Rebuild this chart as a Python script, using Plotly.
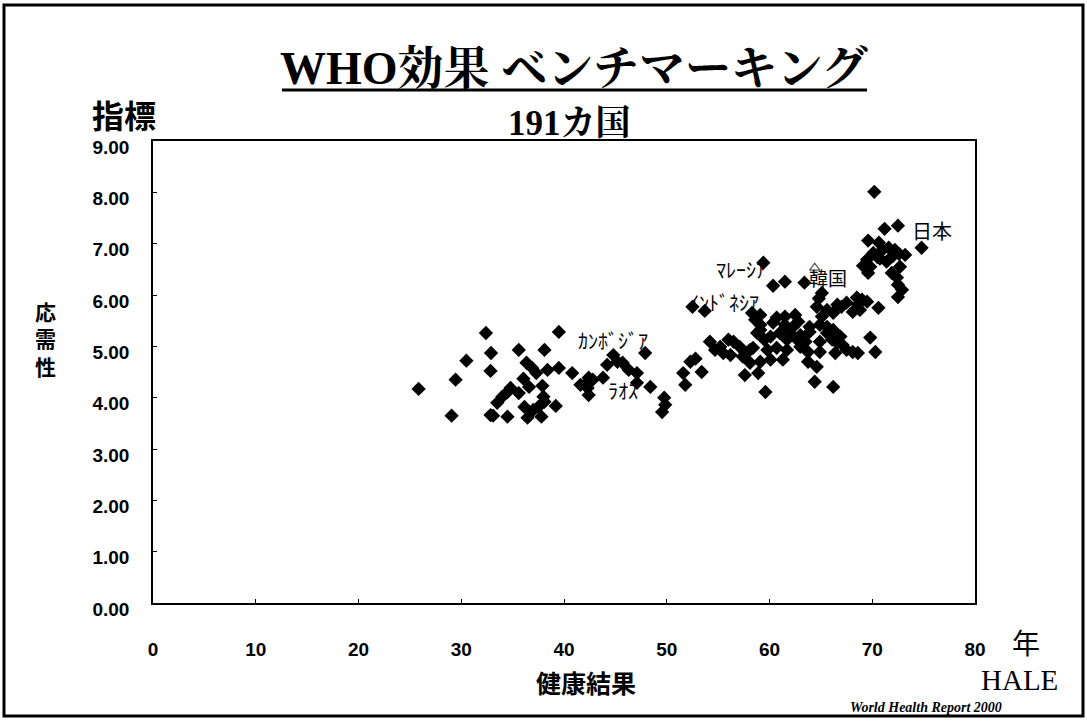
import plotly.graph_objects as go

# HALE (years) vs responsiveness index, 191 countries
hale = [
    25.85, 29.06, 29.45, 30.5, 32.4, 32.9, 32.85, 32.85, 33.1, 33.5, 34.0, 34.5, 34.8, 34.5,
    35.6, 35.6, 36.05, 36.35, 36.9, 36.6, 36.15, 36.45, 37.0, 37.5, 37.8, 38.0, 38.1, 37.9,
    38.1, 38.4, 39.2, 39.5, 39.5, 40.8, 41.6, 42.4, 42.8, 42.4, 43.8, 44.2, 44.8, 45.2, 45.7,
    46.3, 47.1, 47.9, 48.4, 49.75, 49.85, 49.55, 37.3, 42.2, 42.3, 47.1,
    52.5, 53.7, 59.4, 60.35, 61.5, 63.4,
    51.6, 51.8, 52.3, 52.8, 53.4, 54.2, 54.7, 55.2, 55.5, 56.0, 56.5, 56.2, 57.1, 57.4, 57.6,
    58.1, 58.4, 58.1, 58.9, 59.1, 59.6, 58.3, 58.6, 59.1, 59.1, 59.1, 58.8, 59.8, 60.1, 60.1,
    60.7, 60.7, 61.0, 61.3, 61.5, 61.7, 61.7, 62.0, 62.7, 62.8, 63.0, 63.0, 63.75, 63.75, 63.9,
    63.9, 64.4, 64.6, 64.6, 64.9, 64.9, 64.9, 65.1, 65.1, 64.8, 65.6, 65.6, 65.6, 66.2, 66.2,
    66.1, 66.4, 66.2, 66.6, 66.6, 67.0, 66.9, 67.1, 67.5, 67.5, 68.1, 68.1, 68.5, 68.6, 68.8,
    68.6, 69.0, 69.5, 69.8, 70.3, 70.6, 62.3, 63.5, 60.35, 59.5, 62.5, 61.5,
    70.2, 71.2, 72.5, 74.8, 69.6, 70.65, 70.1, 69.5, 69.1, 69.6, 69.8, 70.5, 70.75, 71.0, 71.6,
    72.2, 71.4, 72.0, 72.6, 73.2, 72.7, 71.9, 72.4, 72.5, 72.9, 72.5,
]
resp = [
    4.17, 3.65, 4.35, 4.72, 5.26, 4.87, 4.52, 3.66, 3.65, 3.90, 4.02, 4.11, 4.19, 3.63,
    4.93, 4.09, 4.37, 4.68, 4.58, 4.21, 3.82, 3.61, 3.76, 3.82, 3.63, 4.02, 3.92, 4.23,
    4.93, 4.54, 3.84, 5.28, 4.58, 4.48, 4.25, 4.39, 4.35, 4.05, 4.39, 4.64, 4.83, 4.70, 4.68,
    4.54, 4.48, 4.87, 4.21, 4.00, 3.86, 3.72, 4.48, 4.29, 4.19, 4.29,
    5.77, 5.69, 6.63, 6.18, 6.26, 6.24,
    4.48, 4.25, 4.70, 4.76, 4.50, 5.09, 4.93, 4.99, 4.87, 5.13, 5.09, 4.83, 4.99, 4.80, 4.44,
    4.93, 4.97, 4.68, 4.48, 4.70, 4.11, 5.65, 5.52, 5.61, 5.42, 5.32, 5.26, 4.93, 5.19, 4.74,
    5.56, 4.97, 5.26, 4.74, 5.58, 5.13, 4.93, 5.26, 5.13, 5.48, 5.22, 4.99, 4.89, 4.70, 5.38,
    5.28, 4.31, 5.77, 4.60, 5.42, 5.09, 4.89, 6.04, 5.58, 5.93, 5.71, 5.38, 5.26, 5.65, 5.32,
    5.13, 4.87, 4.21, 5.81, 5.07, 5.77, 5.19, 5.03, 5.85, 4.93, 5.67, 4.89, 5.95, 5.81, 5.71,
    4.87, 5.91, 5.87, 5.17, 4.89, 5.75, 5.38, 5.09, 5.46, 5.13, 5.61, 5.42,
    8.01, 7.29, 7.35, 6.92, 7.06, 7.02, 6.82, 6.69, 6.57, 6.43, 6.55, 6.74, 6.71, 6.88, 6.92,
    6.88, 6.65, 6.76, 6.80, 6.78, 6.55, 6.43, 6.34, 6.20, 6.10, 5.96,
]

korea_hale = [64.4]
korea_resp = [6.53]

label_text = ["日本", "韓国", "ﾏﾚｰｼｱ", "ｲﾝﾄﾞﾈｼｱ", "ｶﾝﾎﾞｼﾞｱ", "ﾗｵｽ"]
label_x = [75.8, 65.7, 57.2, 55.6, 44.8, 45.7]
label_y = [7.25, 6.34, 6.49, 5.85, 5.11, 4.13]
label_size = [20, 19, 20, 20, 20, 20]

x_ticks = [0, 10, 20, 30, 40, 50, 60, 70, 80]
y_ticks = [0, 1, 2, 3, 4, 5, 6, 7, 8, 9]

JP = "Noto Sans CJK JP"
SERIF = "Liberation Serif, Noto Serif CJK JP, Noto Sans CJK JP"
NARROW = "Liberation Sans Narrow, Liberation Sans, Arial, sans-serif"

fig = go.Figure()
fig.add_trace(go.Scatter(
    x=hale, y=resp, mode="markers",
    marker=dict(symbol="diamond", size=11, color="black", line=dict(width=0)),
    showlegend=False, hoverinfo="x+y",
))
fig.add_trace(go.Scatter(
    x=korea_hale, y=korea_resp, mode="markers",
    marker=dict(symbol="triangle-up-open", size=9, color="#555555", line=dict(width=1.2)),
    showlegend=False,
))

for t, x, y, s in zip(label_text, label_x, label_y, label_size):
    fig.add_annotation(x=x, y=y, xref="x", yref="y", text=t, showarrow=False,
                       font=dict(family=JP, size=s, color="black"))

L, R, T, B = 153, 112, 141, 119
W, H = 1087, 722
pw, ph = W - L - R, H - T - B


def px(xp):
    return (xp - L) / pw


def py(yp):
    return (H - B - yp) / ph


def ann(text, xp, yp, size, family, bold=False, **kw):
    fig.add_annotation(x=px(xp), y=py(yp), xref="paper", yref="paper", text=text,
                       showarrow=False, xanchor="center", yanchor="middle",
                       font=dict(family=family, size=size, color="black",
                                 weight="bold" if bold else "normal", **kw))


ann("WHO効果 ベンチマーキング", 574, 68, 46, SERIF, bold=True)
ann("191カ国", 569, 123, 35, SERIF, bold=True)
ann("指標", 124, 114, 32, JP, bold=True)
ann("応<br>需<br>性", 45, 338, 21, JP, bold=True)
ann("年", 1026, 642, 28, JP)
ann("HALE", 1019, 680, 29, "Liberation Serif")
ann("健康結果", 586, 682, 25, JP, bold=True)
ann("World Health Report 2000", 926, 707, 14, "Liberation Serif", bold=True, style="italic")

# title underline
fig.add_shape(type="line", xref="paper", yref="paper", x0=px(282), x1=px(867),
              y0=py(90), y1=py(90), line=dict(color="black", width=3))
# outer frame
fig.add_shape(type="rect", xref="paper", yref="paper", x0=px(4), x1=px(1083),
              y0=py(716), y1=py(5), line=dict(color="black", width=3))

fig.update_xaxes(range=[0, 80], tickvals=x_ticks, showgrid=False, zeroline=False,
                 showline=True, mirror=True, linecolor="black", linewidth=1.5,
                 ticks="inside", ticklen=4, tickcolor="black",
                 ticklabelstandoff=28,
                 tickfont=dict(family=NARROW, size=19, color="black", weight="bold"))
fig.update_yaxes(range=[0, 9], tickvals=y_ticks, tickformat=".2f", showgrid=False,
                 zeroline=False, showline=True, mirror=True, linecolor="black",
                 linewidth=1.5, ticks="inside", ticklen=4, tickcolor="black",
                 ticklabelstandoff=18, ticklabelshift=6,
                 tickfont=dict(family=NARROW, size=19, color="black", weight="bold"))

fig.update_layout(width=W, height=H, autosize=False,
                  margin=dict(l=L, r=R, t=T, b=B, pad=0),
                  plot_bgcolor="white", paper_bgcolor="white", showlegend=False)

fig.write_html("out.html", config={"displayModeBar": False},
               post_script="document.body.style.margin='0';document.body.style.overflow='hidden';")
